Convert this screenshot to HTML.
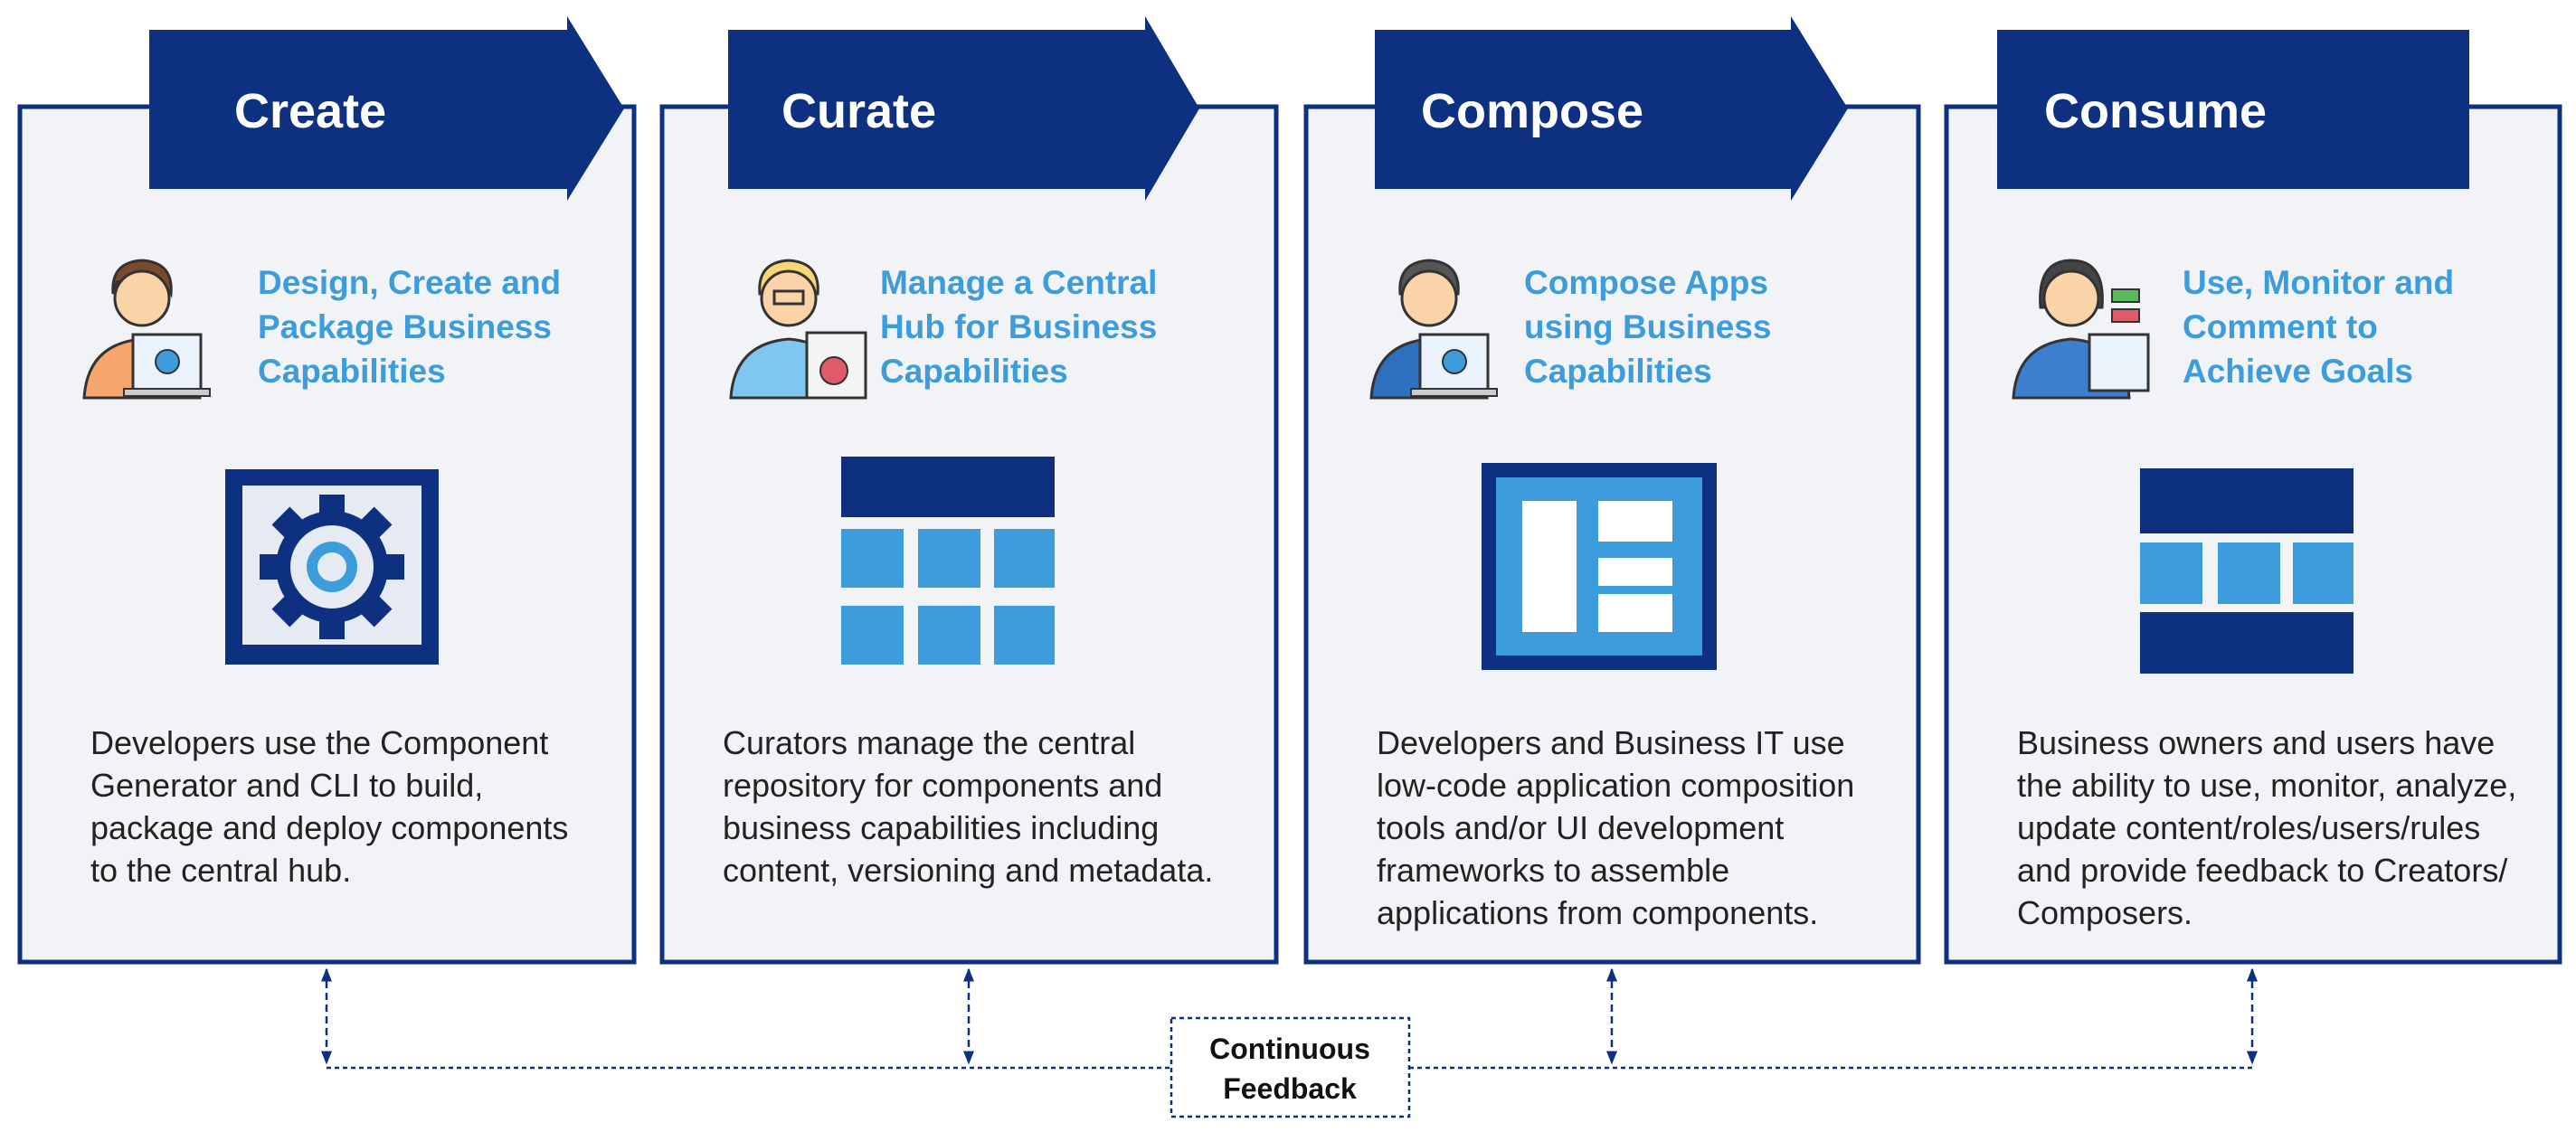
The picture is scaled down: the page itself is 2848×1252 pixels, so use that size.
<!DOCTYPE html>
<html><head><meta charset="utf-8"><style>
html,body{margin:0;padding:0;background:#fff;}
svg{display:block;}
.t{font-family:"Liberation Sans",sans-serif;}
</style></head><body>
<svg width="2848" height="1252" viewBox="0 0 2848 1252" xmlns="http://www.w3.org/2000/svg" class="t">
<defs>
<marker id="ah" viewBox="0 0 10 10" refX="9" refY="5" markerWidth="6" markerHeight="8" orient="auto-start-reverse"><path d="M0,1 L10,5 L0,9 z" fill="#0d3080"/></marker>
<g id="person">
  <circle cx="0" cy="0" r="30" fill="#fbd3a8" stroke="#333" stroke-width="3"/>
  <path d="M-64,110 Q-60,50 0,45 Q60,50 64,110 Z" stroke="#333" stroke-width="3"/>
</g>
</defs>
<g fill="#f1f3f7" stroke="#0d3080" stroke-width="5">
<rect x="22" y="118" width="679" height="946"/>
<rect x="732" y="118" width="679" height="946"/>
<rect x="1444" y="118" width="677" height="946"/>
<rect x="2152" y="118" width="678" height="946"/>
</g>
<g fill="#0d3080">
<path d="M165,33 H627 V18 L690,120 L627,222 V209 H165 Z"/>
<path d="M805,33 H1266 V18 L1326,120 L1266,222 V209 H805 Z"/>
<path d="M1520,33 H1980 V18 L2043,120 L1980,222 V209 H1520 Z"/>
<rect x="2208" y="33" width="522" height="176"/>
</g>
<g fill="#fff" font-weight="bold" font-size="54">
<text x="259" y="141">Create</text>
<text x="864" y="141">Curate</text>
<text x="1571" y="141">Compose</text>
<text x="2260" y="141">Consume</text>
</g>
<g transform="translate(157,330)">
<path d="M-32,-5 Q-35,-40 0,-42 Q35,-40 32,-5 Q20,-25 -28,-18 Z" fill="#7a4a2a" stroke="#333" stroke-width="3"/>
<use href="#person" fill="#f6a56b"/>
<rect x="-10" y="40" width="75" height="62" fill="#eaf2fb" stroke="#333" stroke-width="3"/>
<circle cx="28" cy="70" r="13" fill="#3d9cdb" stroke="#333" stroke-width="2"/>
<rect x="-20" y="100" width="95" height="8" fill="#ccc" stroke="#333" stroke-width="2"/>
</g>
<g transform="translate(872,330)">
<path d="M-32,-5 Q-35,-40 0,-42 Q35,-40 32,-5 Z" fill="#f7d774" stroke="#333" stroke-width="3"/>
<use href="#person" fill="#7fc7ef"/>
<rect x="-16" y="-8" width="32" height="14" fill="none" stroke="#333" stroke-width="3"/>
<rect x="20" y="38" width="65" height="72" fill="#f4f4f4" stroke="#333" stroke-width="3"/>
<circle cx="50" cy="80" r="15" fill="#e05a6a" stroke="#333" stroke-width="2"/>
</g>
<g transform="translate(1580,330)">
<path d="M-32,-5 Q-35,-40 0,-42 Q35,-40 32,-5 Z" fill="#555" stroke="#333" stroke-width="3"/>
<use href="#person" fill="#2f6fbf"/>
<rect x="-10" y="40" width="75" height="62" fill="#eaf2fb" stroke="#333" stroke-width="3"/>
<circle cx="28" cy="70" r="13" fill="#3d9cdb" stroke="#333" stroke-width="2"/>
<rect x="-20" y="100" width="95" height="8" fill="#ccc" stroke="#333" stroke-width="2"/>
</g>
<g transform="translate(2290,330)">
<path d="M-34,10 Q-38,-42 0,-42 Q38,-42 34,10 Z" fill="#444" stroke="#333" stroke-width="3"/>
<use href="#person" fill="#3d7fcf"/>
<rect x="20" y="40" width="65" height="62" fill="#eaf2fb" stroke="#333" stroke-width="3"/>
<rect x="45" y="-10" width="30" height="14" fill="#5cb85c" stroke="#333" stroke-width="2"/>
<rect x="45" y="12" width="30" height="14" fill="#e05a6a" stroke="#333" stroke-width="2"/>
</g>
<g fill="#3d9cdb" font-weight="bold" font-size="37">
<text x="285" y="325">Design, Create and</text><text x="285" y="374">Package Business</text><text x="285" y="423">Capabilities</text>
<text x="973" y="325">Manage a Central</text><text x="973" y="374">Hub  for Business</text><text x="973" y="423">Capabilities</text>
<text x="1685" y="325">Compose Apps</text><text x="1685" y="374">using Business</text><text x="1685" y="423">Capabilities</text>
<text x="2413" y="325">Use, Monitor and</text><text x="2413" y="374">Comment to</text><text x="2413" y="423">Achieve Goals</text>
</g>
<rect x="249" y="519" width="236" height="216" fill="#0d3080"/>
<rect x="268" y="537" width="198" height="176" fill="#e6eaf3"/>
<g transform="translate(367,627)" fill="#0d3080">
<g id="teeth">
<rect x="-14" y="-80" width="28" height="30"/><rect x="-14" y="50" width="28" height="30"/>
<rect x="-80" y="-14" width="30" height="28"/><rect x="50" y="-14" width="30" height="28"/>
</g>
<use href="#teeth" transform="rotate(45)"/>
<circle r="62"/>
<circle r="46" fill="#e6eaf3"/>
<circle r="28" fill="#3d9cdb"/>
<circle r="16" fill="#e6eaf3"/>
</g>
<rect x="930" y="505" width="236" height="67" fill="#0d3080"/>
<g fill="#3d9cdb">
<rect x="930" y="585" width="69" height="65"/><rect x="1015" y="585" width="69" height="65"/><rect x="1099" y="585" width="67" height="65"/>
<rect x="930" y="670" width="69" height="65"/><rect x="1015" y="670" width="69" height="65"/><rect x="1099" y="670" width="67" height="65"/>
</g>
<rect x="1638" y="512" width="260" height="229" fill="#0d3080"/>
<rect x="1654" y="528" width="228" height="197" fill="#3d9cdb"/>
<g fill="#fff">
<rect x="1683" y="554" width="60" height="145"/>
<rect x="1767" y="554" width="82" height="45"/>
<rect x="1767" y="617" width="82" height="31"/>
<rect x="1767" y="657" width="82" height="42"/>
</g>
<rect x="2366" y="518" width="236" height="72" fill="#0d3080"/>
<g fill="#3d9cdb"><rect x="2366" y="600" width="69" height="68"/><rect x="2452" y="600" width="69" height="68"/><rect x="2535" y="600" width="67" height="68"/></g>
<rect x="2366" y="677" width="236" height="68" fill="#0d3080"/>
<g fill="#222" font-size="36">
<text x="100" y="834">Developers use the Component</text><text x="100" y="881">Generator and  CLI to build,</text><text x="100" y="928">package and deploy components</text><text x="100" y="975">to the central hub.</text>
<text x="799" y="834">Curators manage the central</text><text x="799" y="881">repository for components and</text><text x="799" y="928">business capabilities including</text><text x="799" y="975">content, versioning and metadata.</text>
<text x="1522" y="834">Developers and Business IT use</text><text x="1522" y="881">low-code application composition</text><text x="1522" y="928">tools and/or UI development</text><text x="1522" y="975">frameworks to assemble</text><text x="1522" y="1022">applications from components.</text>
<text x="2230" y="834">Business owners and users  have</text><text x="2230" y="881">the ability to use, monitor, analyze,</text><text x="2230" y="928">update content/roles/users/rules</text><text x="2230" y="975">and provide feedback to Creators/</text><text x="2230" y="1022">Composers.</text>
</g>
<g stroke="#0d3080" stroke-width="2.5" stroke-dasharray="8,5" fill="none">
<line x1="361" y1="1072" x2="361" y2="1176" marker-start="url(#ah)" marker-end="url(#ah)"/>
<line x1="1071" y1="1072" x2="1071" y2="1176" marker-start="url(#ah)" marker-end="url(#ah)"/>
<line x1="1782" y1="1072" x2="1782" y2="1176" marker-start="url(#ah)" marker-end="url(#ah)"/>
<line x1="2490" y1="1072" x2="2490" y2="1176" marker-start="url(#ah)" marker-end="url(#ah)"/>
<line x1="361" y1="1181" x2="1295" y2="1181" stroke-dasharray="5,4"/>
<line x1="1558" y1="1181" x2="2490" y2="1181" stroke-dasharray="5,4"/>
<rect x="1295" y="1126" width="263" height="109" stroke-dasharray="5,4"/>
</g>
<g fill="#111" font-weight="bold" font-size="32" text-anchor="middle">
<text x="1426" y="1171">Continuous</text><text x="1426" y="1215">Feedback</text>
</g>
</svg>
</body></html>
